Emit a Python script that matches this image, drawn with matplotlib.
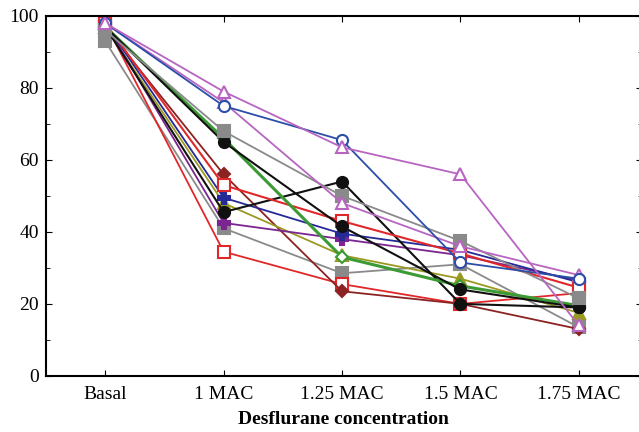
import numpy as np
import matplotlib
matplotlib.use('Agg')
import matplotlib.pyplot as plt
from matplotlib.ticker import MultipleLocator

plt.rcParams['font.family'] = ['Liberation Serif', 'DejaVu Serif']

stages = ['Basal', '1 MAC', '1.25 MAC', '1.5 MAC', '1.75 MAC']

# one list per subject (% of basal)
magenta_a = [98, 79, 63.5, 56, 14]
magenta_b = [98, 76, 48, 36, 28]
blue_circ = [98, 75, 65.5, 31.5, 27]
gray_a = [96, 68, 50, 37.5, 21.5]
black_a = [97, 65, 41.5, 24, 19]
green_d = [97, 66, 33, 25, 19.5]
darkred_d = [97, 56, 23.5, 20, 13]
red_a = [98, 53, 43, 34, 24.5]
navy_p = [98, 49.5, 39.5, 35, 26]
olive_t = [97, 48, 33.5, 27, 17.5]
black_b = [97, 45.5, 54, 20, 19]
purple_p = [98, 42.5, 38, 33.5, 26.5]
gray_b = [93, 41, 28.5, 31, 13.5]
red_b = [98, 34.5, 25.5, 20, 23]

# (values, color, marker, face, linewidth)
series = [
    (gray_b, '#8a8a8a', 's', 'full', 1.3),
    (red_b, '#e0282a', 's', 'none', 1.3),
    (darkred_d, '#8b2323', 'D', 'full', 1.3),
    (olive_t, '#9a9a22', '^', 'full', 1.3),
    (purple_p, '#7b2590', 'P', 'full', 1.3),
    (navy_p, '#262a96', 'P', 'full', 1.3),
    (black_b, '#111111', 'o', 'full', 1.5),
    (red_a, '#e0282a', 's', 'none', 1.5),
    (green_d, '#3c9a35', 'D', 'none', 2.2),
    (black_a, '#111111', 'o', 'full', 1.5),
    (gray_a, '#8a8a8a', 's', 'full', 1.3),
    (magenta_b, '#b865c2', '^', 'none', 1.3),
    (blue_circ, '#2b4ea8', 'o', 'none', 1.3),
    (magenta_a, '#b865c2', '^', 'none', 1.3),
]

fig = plt.figure(figsize=(6.39, 4.32), dpi=100)
ax = fig.add_axes([0.072, 0.13, 0.932, 0.833])

x = np.arange(len(stages))
for vals, col, mk, face, lw in series:
    mfc = col if face == 'full' else 'white'
    ms = 9 if mk in ('s', 'P') else 8
    if mk == 'D':
        ms = 6.5
    ax.plot(x, vals, color=col, lw=lw, marker=mk, ms=ms, mfc=mfc,
            mec=col, mew=1.5)

ax.set_xlim(-0.5, 4.53)
ax.set_ylim(0, 100)
ax.set_xticks(x)
ax.set_xticklabels(stages)
ax.yaxis.set_major_locator(MultipleLocator(20))
ax.yaxis.set_minor_locator(MultipleLocator(10))
ax.tick_params(direction='in', top=True, right=True, labelsize=14, length=4)
ax.tick_params(axis='x', pad=7)
ax.tick_params(axis='y', pad=5)
ax.tick_params(which='minor', direction='in', right=True, length=3)
for s in ax.spines.values():
    s.set_linewidth(1.5)

ax.set_xlabel('Desflurane concentration', fontsize=14, fontweight='bold', labelpad=6)

fig.savefig('out.png', dpi=100)
